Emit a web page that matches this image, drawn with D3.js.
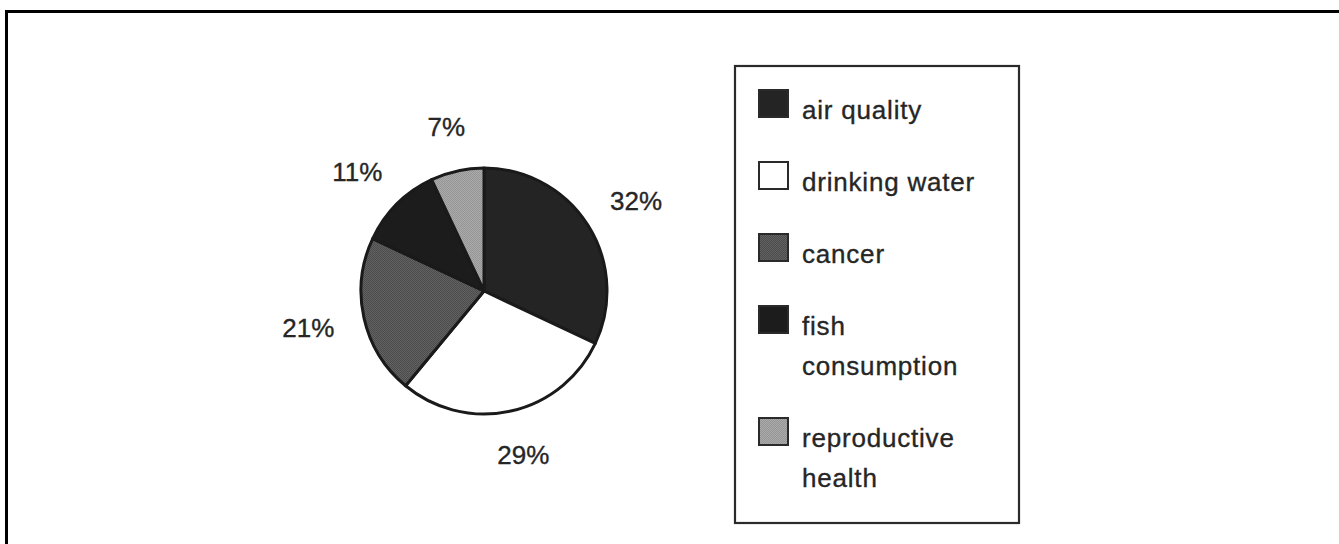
<!DOCTYPE html>
<html>
<head>
<meta charset="utf-8">
<script src="https://cdn.jsdelivr.net/npm/d3@7"></script>
<style>
  html, body { margin: 0; padding: 0; background: #fff; }
  svg { display: block; }
  text { font-family: "Liberation Sans", Arial, Helvetica, sans-serif; fill: #262626; stroke: #262626; stroke-width: 0.35px; }
</style>
</head>
<body>
<svg id="chart" width="1339" height="544"></svg>
<script>
// ---- data ----
const categories = ["air quality", "drinking water", "cancer", "fish consumption", "reproductive health"];
const values = [32, 29, 21, 11, 7];
const legendLines = [["air quality"], ["drinking water"], ["cancer"], ["fish", "consumption"], ["reproductive", "health"]];
const fills = ["#242424", "#ffffff", "url(#patCancer)", "#1c1c1c", "url(#patRepro)"];

const svg = d3.select("#chart");
const defs = svg.append("defs");

function checker(id, a, b) {
  const p = defs.append("pattern").attr("id", id).attr("patternUnits", "userSpaceOnUse")
    .attr("width", 2).attr("height", 2);
  p.append("rect").attr("width", 2).attr("height", 2).attr("fill", a);
  p.append("rect").attr("width", 1).attr("height", 1).attr("fill", b);
  p.append("rect").attr("x", 1).attr("y", 1).attr("width", 1).attr("height", 1).attr("fill", b);
}
checker("patCancer", "#4c4c4c", "#626262");
checker("patRepro", "#959595", "#ababab");

// outer frame (extends past right/bottom edges)
svg.append("rect").attr("x", 6.5).attr("y", 11.5).attr("width", 1360).attr("height", 560)
  .attr("fill", "none").attr("stroke", "#000").attr("stroke-width", 3);

// ---- pie ----
const cx = 484, cy = 291, R = 123;
const pie = d3.pie().sort(null).value(d => d)(values);
const arc = d3.arc().innerRadius(0).outerRadius(R);
const g = svg.append("g").attr("transform", `translate(${cx},${cy})`);

g.selectAll("path.slice").data(pie).join("path")
  .attr("class", "slice")
  .attr("d", arc)
  .attr("fill", (d, i) => fills[i])
  .attr("stroke", "#1a1a1a")
  .attr("stroke-width", 3)
  .attr("stroke-linejoin", "round");

// percent labels placed outside, offset by half their box
const labelR = 154;
g.selectAll("text.pct").data(pie).join("text")
  .attr("class", "pct")
  .attr("font-size", 26)
  .attr("text-anchor", "middle")
  .attr("dominant-baseline", "central")
  .text(d => d.data + "%")
  .each(function(d) {
    const bb = this.getBBox();
    const a = (d.startAngle + d.endAngle) / 2;
    const s = Math.sin(a), c = -Math.cos(a);
    const x = labelR * s + (bb.width / 2) * s;
    const y = labelR * c + 14 * c;
    d3.select(this).attr("x", x).attr("y", y);
  });

// ---- legend ----
const lg = svg.append("g");
lg.append("rect").attr("x", 735).attr("y", 66).attr("width", 284).attr("height", 457)
  .attr("fill", "#fff").attr("stroke", "#2a2a2a").attr("stroke-width", 2.2);

const lineH = 40, itemGap = 72;
let baseY = 119;
legendLines.forEach((lines, i) => {
  lg.append("rect").attr("x", 759).attr("y", baseY - 29).attr("width", 29).attr("height", 27)
    .attr("fill", fills[i]).attr("stroke", "#2a2a2a").attr("stroke-width", 2);
  lines.forEach((t, j) => {
    lg.append("text").attr("x", 802).attr("y", baseY + j * lineH)
      .attr("font-size", 26).attr("letter-spacing", "0.8px").text(t);
  });
  baseY += itemGap + (lines.length - 1) * lineH;
});
</script>
</body>
</html>
